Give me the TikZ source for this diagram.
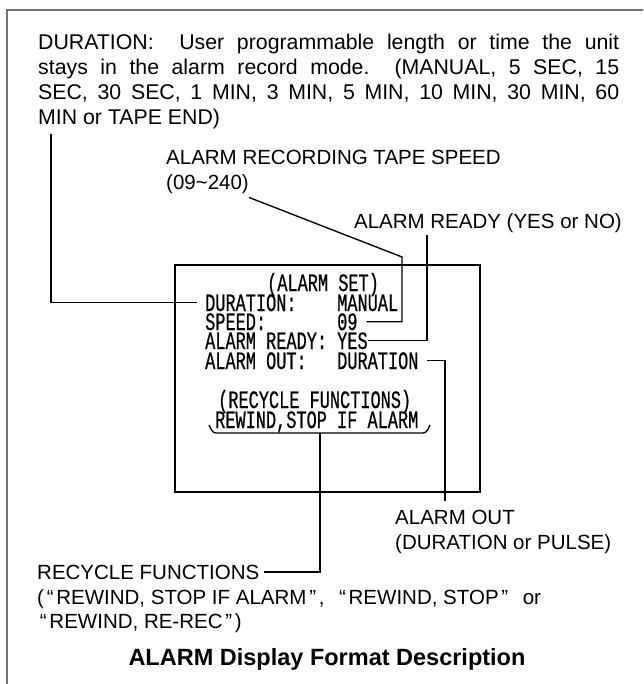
\documentclass[tikz,border=0pt]{standalone}
\usepackage{fontspec}
\setmainfont{Liberation Sans}
\newfontfamily\osdfont[FakeStretch=0.677,FakeBold=0.6]{Liberation Mono}
\newcommand\oq{\makebox[0.6em][c]{“}}
\newcommand\cq{\makebox[0.6em][c]{”}}

\begin{document}
\begin{tikzpicture}[x=1pt,y=-1pt,
  note/.style={inner sep=0pt,font=\fontsize{20.5}{25}\selectfont},
  osd/.style={inner sep=0pt,anchor=base west,font=\osdfont\fontsize{25}{20}\selectfont},
  leader/.style={line width=1.35pt}]
  \useasboundingbox (0,0) rectangle (643,684);
  % frame
  \draw[black!55,line width=1.3pt] (7,684) -- (7,10) -- (643,10);
  % duration description
  \node[note,anchor=north west,text width=581pt,align=justify,
        font=\fontsize{21.3}{25}\selectfont] (durnote) at (38,34)
    {DURATION:\ \ User programmable length or time the unit\linebreak
     stays in the alarm record mode.\ \ (MANUAL, 5 SEC, 15\linebreak
     SEC, 30 SEC, 1 MIN, 3 MIN, 5 MIN, 10 MIN, 30 MIN, 60\linebreak
     MIN or TAPE END)};
  \node[note,anchor=base west] (spdnote) at (166,165) {ALARM RECORDING TAPE SPEED};
  \node[note,anchor=base west] (spdrange) at (166,190) {(09\textasciitilde240)};
  \node[note,anchor=base east] (rdynote) at (622,229) {ALARM READY (YES or NO)};
  % screen
  \draw[leader] (175,265) rectangle (480,492);
  \node[osd] (hdset) at (267,291) {(ALARM SET)};
  \node[osd] (lbldur) at (205,311) {DURATION:};
  \node[osd] (lblspd) at (205,330) {SPEED:};
  \node[osd] (lblrdy) at (205,349) {ALARM READY:};
  \node[osd] (lblout) at (205,369) {ALARM OUT:};
  \node[osd] (valdur) at (337,311) {MANUAL};
  \node[osd] (valspd) at (337,330) {09};
  \node[osd] (valrdy) at (337,349) {YES};
  \node[osd] (valout) at (337,369) {DURATION};
  \node[osd] (hdrec) at (218,408) {(RECYCLE FUNCTIONS)};
  \node[osd] (valrec) at (215,428) {REWIND,STOP IF ALARM};
  % lower notes
  \node[note,anchor=base west] (outnote) at (395,524) {ALARM OUT};
  \node[note,anchor=base west] (outrange) at (395,549) {(DURATION or PULSE)};
  \node[note,anchor=base west] (recnote) at (37,579) {RECYCLE FUNCTIONS};
  \node[note,anchor=base west] (reclist) at (37,604)
    {(\oq REWIND, STOP IF ALARM\cq,\hspace{.3em} \oq REWIND, STOP\cq\hspace{.3em} or};
  \node[note,anchor=base west] (reclist2) at (37,628) {\oq REWIND, RE-REC\cq)};
  \node[inner sep=0pt,anchor=base,font=\bfseries\fontsize{23.5}{28}\selectfont] (title)
    at (327,665) {ALARM Display Format Description};
  % leaders
  \coordinate (durtop) at (51,134);
  \draw[leader,shorten >=8pt] (durtop) |- (lbldur.west);
  \coordinate (spdbend) at (402,257);
  \draw[leader,shorten >=9pt] ([yshift=-3pt]spdrange.south east) -- (spdbend) |- (valspd.east);
  \coordinate (rdytop) at (427,235);
  \draw[leader] (rdytop) |- (valrdy.east);
  \coordinate (outend) at (445,501);
  \draw[leader,shorten <=8pt] (valout.east) -| (outend);
  \draw[leader,rounded corners=3pt] (209,425) -- (213,433) -- (426,433) -- (430,425);
  \coordinate (brkmid) at (320,433);
  \draw[leader,shorten >=4pt] (brkmid) |- (recnote.east);
\end{tikzpicture}
\end{document}
